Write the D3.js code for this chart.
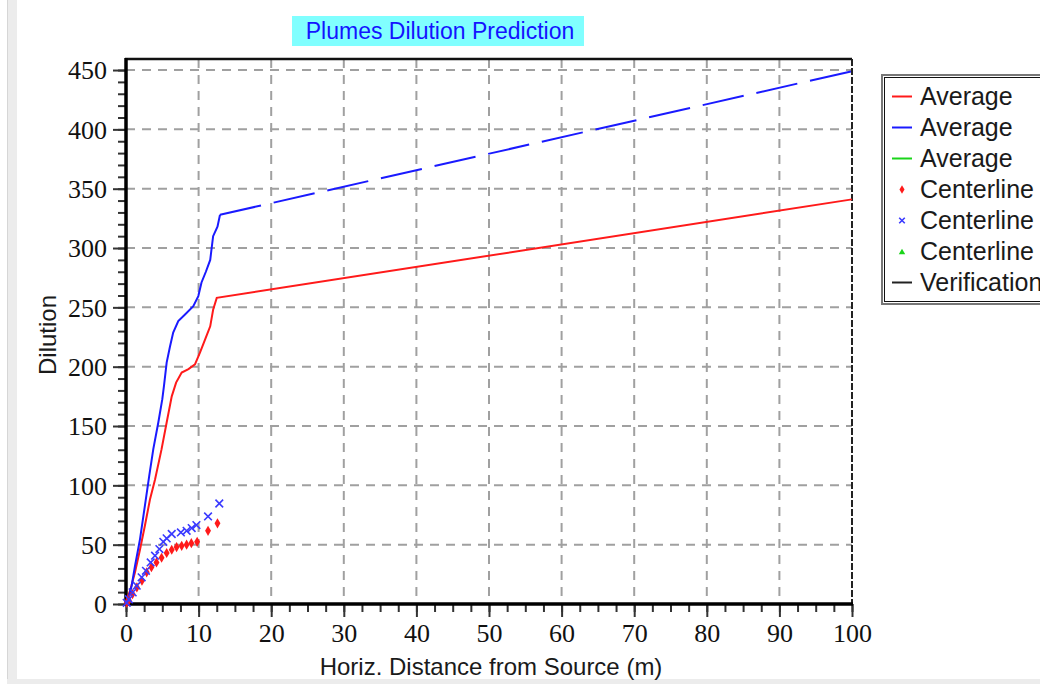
<!DOCTYPE html>
<html>
<head>
<meta charset="utf-8">
<script src="https://cdn.jsdelivr.net/npm/d3@7"></script>
<style>
  body { margin: 0; background: #fff; overflow: hidden; }
  svg { display: block; }
</style>
</head>
<body>
<script>
// series: horizontal distance (m) vs dilution
var avgRedX = [0, 0.1, 0.55, 1.24, 1.93, 2.6, 3.3, 4.0, 4.9, 5.6, 6.3, 6.9, 7.67, 8.6, 9.5, 10.2, 10.9, 11.6, 12.0, 12.5, 100];
var avgRedY = [0, 4, 11, 26.7, 46, 66, 88, 105, 130.5, 153, 175, 186.6, 195, 198, 202, 212, 223, 234, 248, 258, 341];

var avgBlueX = [0, 0.3, 0.78, 1.24, 1.93, 2.6, 3.2, 3.76, 4.45, 5.0, 5.23, 5.6, 6.06, 6.5, 7.2, 8.13, 9.27, 9.96, 10.4, 11.0, 11.6, 12.0, 12.6, 12.95, 100];
var avgBlueY = [0, 4, 15.4, 32, 54.7, 82.7, 108, 130.5, 153, 172.6, 183.8, 203.4, 217, 228.7, 238.5, 244, 251, 259.5, 271, 280, 290, 310, 318, 328, 449];

var clRedX = [0.1, 0.4, 0.9, 1.5, 2.2, 2.85, 3.5, 4.2, 4.9, 5.6, 6.3, 6.97, 7.67, 8.35, 9.0, 9.8, 11.3, 12.6];
var clRedY = [1, 3, 8.4, 14, 19.6, 26.7, 31, 35, 39, 43, 45.7, 48, 49, 50, 51.3, 52.4, 61.7, 68];

var clBlueX = [0.1, 0.4, 0.92, 1.47, 2.16, 2.75, 3.4, 4.0, 4.6, 5.14, 5.6, 6.3, 7.56, 8.35, 9.05, 9.7, 11.3, 12.85];
var clBlueY = [1, 4, 9.8, 15.4, 22.5, 28, 35, 40.7, 46.3, 52.4, 55.3, 59, 60.3, 61.7, 64, 66.5, 73.8, 84.7];

var xTicks = [0, 10, 20, 30, 40, 50, 60, 70, 80, 90, 100];
var yTicks = [0, 50, 100, 150, 200, 250, 300, 350, 400, 450];
var legendLabels = ["Average", "Average", "Average", "Centerline", "Centerline", "Centerline", "Verification"];
var legendKinds = ["line", "line", "line", "diamond", "cross", "triangle", "line"];
var legendColors = ["#ff1a1a", "#1a1aff", "#1ad41a", "#ff1a1a", "#3a3aff", "#1ad41a", "#222"];

var W = 1040, H = 684;
// plot box edges (top is a reserved global, hence the names)
var pL = 126, pR = 852, pT = 59, pB = 604;

var svg = d3.select("body").append("svg").attr("width", W).attr("height", H);

// window frame bits
svg.append("rect").attr("x", 7).attr("y", 0).attr("width", 10).attr("height", H).attr("fill", "#ececec");
svg.append("line").attr("x1", 7.5).attr("x2", 7.5).attr("y1", 0).attr("y2", H).attr("stroke", "#d6d6d6");
svg.append("rect").attr("x", 7).attr("y", 679).attr("width", W).attr("height", 5).attr("fill", "#ececec");

var x = d3.scaleLinear().domain([0, 100]).range([pL, pR]);
var y = d3.scaleLinear().domain([0, 459.3]).range([pB, pT]);

// title
svg.append("rect").attr("x", 292).attr("y", 16).attr("width", 292).attr("height", 30).attr("fill", "#80ffff");
svg.append("text").attr("x", 440).attr("y", 39).attr("text-anchor", "middle")
  .style("font-family", "Liberation Sans, Arial, sans-serif").style("font-size", "23px")
  .attr("fill", "#1414ff").text("Plumes Dilution Prediction");

// grid
var grid = svg.append("g").attr("stroke", "#a0a0a0").attr("stroke-width", 2).attr("stroke-dasharray", "9,7");
grid.selectAll(".gx").data(xTicks.slice(1, -1)).enter().append("line")
  .attr("x1", function(d) { return x(d); }).attr("x2", function(d) { return x(d); })
  .attr("y1", pT).attr("y2", pB);
grid.selectAll(".gy").data(yTicks.slice(1)).enter().append("line")
  .attr("x1", pL).attr("x2", pR)
  .attr("y1", function(d) { return y(d); }).attr("y2", function(d) { return y(d); });

// minor + major ticks
var yMinor = svg.append("g").attr("transform", "translate(" + pL + ",0)")
  .call(d3.axisLeft(y).tickValues(d3.range(0, 451, 10)).tickSize(8).tickFormat(""));
var yMajor = svg.append("g").attr("transform", "translate(" + pL + ",0)")
  .call(d3.axisLeft(y).tickValues(yTicks).tickSize(13).tickPadding(6));
var xMinor = svg.append("g").attr("transform", "translate(0," + pB + ")")
  .call(d3.axisBottom(x).tickValues(d3.range(0, 100.1, 2.5)).tickSize(8).tickFormat(""));
var xMajor = svg.append("g").attr("transform", "translate(0," + pB + ")")
  .call(d3.axisBottom(x).tickValues(xTicks).tickSize(13).tickPadding(5));

[yMinor, yMajor, xMinor, xMajor].forEach(function(g) {
  g.select(".domain").remove();
  g.selectAll(".tick line").attr("stroke", "#333").attr("stroke-width", 2);
  g.selectAll(".tick text").style("font-family", "Liberation Serif, Times New Roman, serif")
    .style("font-size", "26px").attr("fill", "#111");
});
yMajor.selectAll(".tick text").attr("dy", "0.34em");
xMajor.selectAll(".tick text").attr("dy", "0.76em");

// frame
svg.append("line").attr("x1", pL - 1).attr("x2", pR).attr("y1", pT).attr("y2", pT).attr("stroke", "#111").attr("stroke-width", 2.5);
svg.append("line").attr("x1", pR).attr("x2", pR).attr("y1", pT).attr("y2", pB).attr("stroke", "#222").attr("stroke-width", 2).attr("stroke-dasharray", "7,2");
svg.append("line").attr("x1", pL).attr("x2", pL).attr("y1", pT - 1).attr("y2", pB + 2).attr("stroke", "#000").attr("stroke-width", 3.5);
svg.append("line").attr("x1", pL - 1).attr("x2", pR + 1).attr("y1", pB).attr("y2", pB).attr("stroke", "#000").attr("stroke-width", 3.5);

// axis titles
svg.append("text").attr("x", 491).attr("y", 675).attr("text-anchor", "middle")
  .style("font-family", "Liberation Sans, Arial, sans-serif").style("font-size", "24px").attr("fill", "#1a1a1a")
  .text("Horiz. Distance from Source (m)");
svg.append("text").attr("transform", "translate(56,335) rotate(-90)").attr("text-anchor", "middle")
  .style("font-family", "Liberation Sans, Arial, sans-serif").style("font-size", "24px").attr("fill", "#1a1a1a")
  .text("Dilution");

// lines
var line = d3.line().x(function(d) { return x(d[0]); }).y(function(d) { return y(d[1]); });
var redPts = d3.zip(avgRedX, avgRedY);
var bluePts = d3.zip(avgBlueX, avgBlueY);

svg.append("path").datum(redPts).attr("d", line)
  .attr("fill", "none").attr("stroke", "#ff1a1a").attr("stroke-width", 2);
svg.append("path").datum(bluePts.slice(0, -1)).attr("d", line)
  .attr("fill", "none").attr("stroke", "#1a1aff").attr("stroke-width", 2);
svg.append("path").datum(bluePts.slice(-2)).attr("d", line)
  .attr("fill", "none").attr("stroke", "#1a1aff").attr("stroke-width", 2).attr("stroke-dasharray", "42,13");

// centerline markers
var diamond = d3.symbol().type(d3.symbolDiamond).size(30);
svg.selectAll(".clr").data(d3.zip(clRedX, clRedY)).enter().append("path")
  .attr("d", diamond)
  .attr("transform", function(d) { return "translate(" + x(d[0]) + "," + y(d[1]) + ")"; })
  .attr("fill", "#ff1a1a");
var cross = d3.symbol().type(d3.symbolX).size(40);
svg.selectAll(".clb").data(d3.zip(clBlueX, clBlueY)).enter().append("path")
  .attr("d", cross)
  .attr("transform", function(d) { return "translate(" + x(d[0]) + "," + y(d[1]) + ")"; })
  .attr("fill", "none").attr("stroke", "#3a3aff").attr("stroke-width", 1.6);

// legend
var lg = svg.append("g");
lg.append("rect").attr("x", 882).attr("y", 75).attr("width", 200).attr("height", 229)
  .attr("fill", "#fff").attr("stroke", "#777").attr("stroke-width", 2);
lg.append("rect").attr("x", 884.5).attr("y", 77.5).attr("width", 200).attr("height", 224)
  .attr("fill", "none").attr("stroke", "#111").attr("stroke-width", 1);
var rows = lg.selectAll(".row").data(legendLabels).enter().append("g")
  .attr("transform", function(d, i) { return "translate(0," + (96.5 + i * 31) + ")"; });
rows.each(function(d, i) {
  var g = d3.select(this);
  var kind = legendKinds[i], c = legendColors[i];
  if (kind === "line") {
    g.append("line").attr("x1", 892).attr("x2", 912).attr("y1", 0).attr("y2", 0).attr("stroke", c).attr("stroke-width", 2);
  } else if (kind === "diamond") {
    g.append("path").attr("d", d3.symbol().type(d3.symbolDiamond).size(22)).attr("transform", "translate(902,0)").attr("fill", c);
  } else if (kind === "cross") {
    g.append("path").attr("d", d3.symbol().type(d3.symbolX).size(22)).attr("transform", "translate(902,0)").attr("fill", "none").attr("stroke", c).attr("stroke-width", 1.6);
  } else {
    g.append("path").attr("d", d3.symbol().type(d3.symbolTriangle).size(18)).attr("transform", "translate(902,1)").attr("fill", c);
  }
  g.append("text").attr("x", 920).attr("y", 0).attr("dy", "0.35em")
    .style("font-family", "Liberation Sans, Arial, sans-serif").style("font-size", "25px").attr("fill", "#1a1a1a")
    .text(d);
});
</script>
</body>
</html>
